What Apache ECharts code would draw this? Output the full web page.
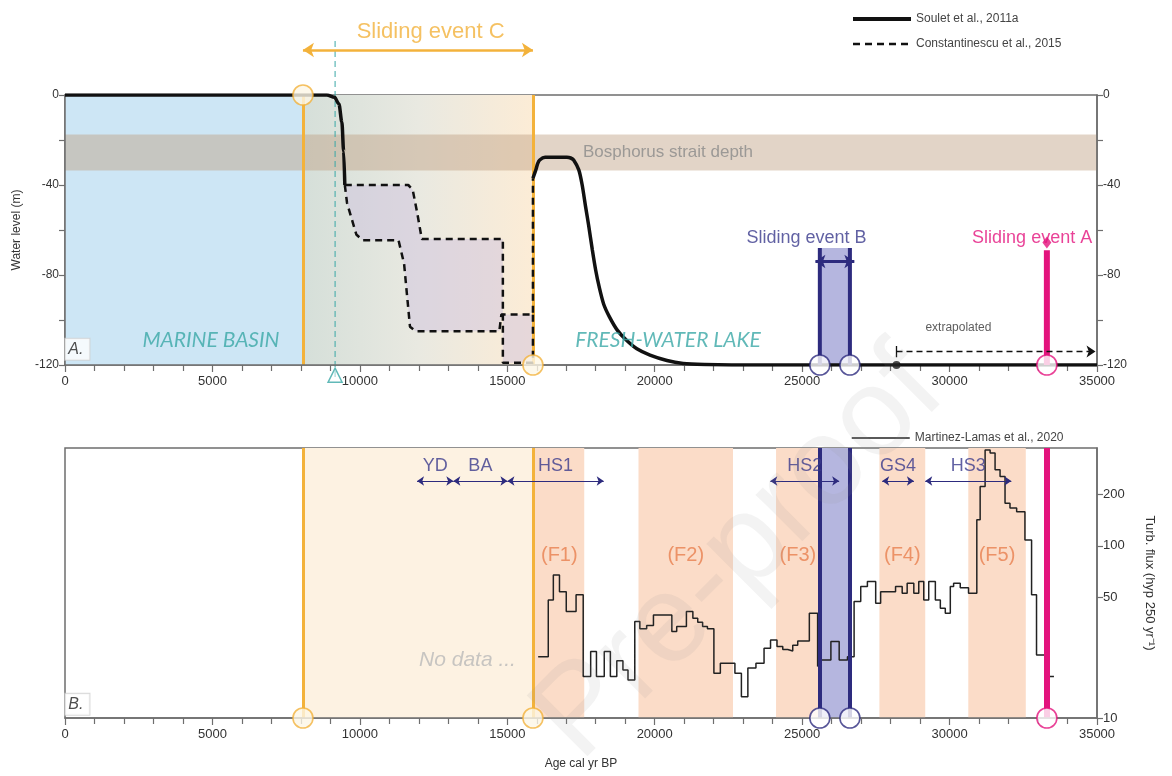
<!DOCTYPE html>
<html>
<head>
<meta charset="utf-8">
<script src="https://cdn.jsdelivr.net/npm/echarts@6/dist/echarts.min.js"></script>
<style>
  html, body { margin: 0; background: #fff; }
  #chart { width: 1172px; height: 776px; }
</style>
</head>
<body>
<div id="chart"></div>
<script>
// ---- data ----
// panel A : water level (m) vs age (cal yr BP)
const souletMarine = [[0, 0], [8880, 0], [9140, -1], [9290, -4], [9390, -12], [9450, -25], [9490, -40]];
const souletLake = [[15870, -37], [15975, -33], [16030, -30.5], [16100, -28.9], [16280, -27.7], [17020, -27.7],
  [17150, -28], [17250, -28.9], [17425, -33.3], [17540, -40], [17655, -49.6], [17760, -58], [17885, -68.9],
  [18000, -78], [18115, -85.2], [18270, -93], [18460, -98.5], [18730, -104.5], [19035, -108.9], [19395, -112.8],
  [19840, -115.6], [20415, -118], [20965, -119.3], [21680, -119.8], [22610, -120], [35000, -120]];
const constUpper = [[9490, -40], [11640, -40], [11790, -42], [11940, -52], [12100, -64], [14850, -64],
  [14850, -119], [15870, -119], [15870, -97.5]];
const constLower = [[9490, -40], [9565, -48], [9880, -62], [10090, -64.5], [11310, -64.5], [11500, -75],
  [11700, -103], [11890, -105], [14730, -105], [14800, -97.5], [15870, -97.5], [15870, -37]];
const bosphorusDepth = [-17.5, -33.5];
const slidingC = [8070, 15870];
const slidingB = [25600, 26620];
const slidingA = 33300;
const reconnection = 9160;
const extrapolatedFrom = 28200;

// panel B : turbidite flux (step values, each holds until the next age)
const turbFlux = [[16047, 22.7], [16390, 48.5], [16562, 67.8], [16770, 54.2], [17000, 41.5], [17333, 51.9],
  [17575, 17.4], [17828, 24.3], [18024, 17.4], [18289, 24.3], [18496, 17.4], [18714, 21.5], [18922, 19],
  [19094, 16.6], [19324, 36.3], [19496, 33], [19727, 34.5], [19957, 39.7], [20581, 31.8], [20746, 34],
  [21075, 41.5], [21294, 38], [21459, 36], [21624, 34], [21788, 33], [22007, 18.2], [22226, 20.8],
  [22720, 18.2], [22940, 13.3], [23159, 19.5], [23433, 20.8], [23708, 25.4], [23928, 28.4], [24147, 26],
  [24343, 25], [24512, 24.5], [24681, 26.5], [24850, 28], [25244, 40.6], [25525, 19.9], [25581, 21.7],
  [25975, 27.8], [26256, 21.7], [26537, 22.7], [26762, 47.5], [26987, 58], [27213, 62.1], [27494, 46.4],
  [27662, 54.2], [28168, 58], [28393, 53.1], [28562, 60.7], [28787, 53.1], [28955, 62.1], [29125, 48.5],
  [29293, 62.1], [29518, 48.5], [29687, 43.4], [29855, 40.6], [30025, 58], [30137, 60.7], [30362, 57],
  [30643, 53.1], [30924, 141.6], [31037, 221], [31205, 360], [31375, 346], [31543, 277], [31712, 253],
  [31881, 177], [32049, 166], [32275, 158], [32556, 108], [32781, 51.9], [32949, 23.2], [33360, 17.4],
  [33540, 17.4]];
const fluxTicks = [10, 50, 100, 200];
const fluxMax = 370;
const floodBands = [['(F1)', 15920, 17610], ['(F2)', 19450, 22655], ['(F3)', 24115, 25600],
  ['(F4)', 27620, 29175], ['(F5)', 30635, 32585]];
const periods = [['YD', 11940, 13170], ['BA', 13170, 15005], ['HS1', 15005, 18270],
  ['HS2', 23920, 26255], ['GS4', 27715, 28790], ['HS3', 29175, 32095]];

// ---- styling ----
const ORANGE = '#f3b23b', NAVY = '#2d2b7e', NAVY_TXT = '#3a3a8c', MAGENTA = '#e3137d',
  TEAL = '#3aa8a6', SALMON = '#fbdcc8', CREAM = '#fdf2e2', BLUEFILL = '#b5b6df', AXIS = '#6e6e6e';
const fMain = '"Liberation Sans", Arial, sans-serif';
const fNarrow = '"Liberation Sans Narrow", "Liberation Sans", Arial, sans-serif';
const fItal = 'Lato, "Open Sans", sans-serif';
const lg = v => Math.log10(v);

const chart = echarts.init(document.getElementById('chart'));

function xAxis(gi, name) {
  return {
    type: 'value', gridIndex: gi, min: 0, max: 35000, interval: 5000, z: 5,
    axisLine: { show: true, onZero: false, lineStyle: { color: AXIS, width: 1.5 } },
    axisTick: { show: true, length: 7, lineStyle: { color: AXIS, width: 1.2 } },
    minorTick: { show: true, splitNumber: 5, length: 6, lineStyle: { color: AXIS, width: 1.2 } },
    splitLine: { show: false },
    axisLabel: { formatter: v => String(v), color: '#333', fontSize: 13, margin: 10, fontFamily: fMain },
    name: name || '', nameLocation: 'middle', nameGap: 40,
    nameTextStyle: { color: '#333', fontSize: 12, fontFamily: fMain }
  };
}
function levelAxis(pos, name) {
  return {
    type: 'value', gridIndex: 0, position: pos, min: -120, max: 0, interval: 20, z: 5,
    axisLine: { show: true, onZero: false, lineStyle: { color: AXIS, width: 1.5 } },
    axisTick: { show: true, length: 6, lineStyle: { color: AXIS, width: 1.2 } },
    splitLine: { show: false },
    axisLabel: { formatter: v => (v % 40 === 0 ? String(v) : ''), color: '#333', fontSize: 12, margin: 6, fontFamily: fMain },
    name: name || '', nameLocation: 'middle', nameGap: 42,
    nameTextStyle: { color: '#333', fontSize: 12, fontFamily: fMain }
  };
}
function seg(xi, yi, pts, color, width, z, extra) {
  return Object.assign({
    type: 'line', xAxisIndex: xi, yAxisIndex: yi, data: pts, symbol: 'none', silent: true, z: z,
    itemStyle: { color: color }, lineStyle: { color: color, width: width }
  }, extra || {});
}
function texts(xi, yi, items) {
  return {
    type: 'scatter', xAxisIndex: xi, yAxisIndex: yi, z: 9, clip: false, silent: true, symbolSize: 1,
    itemStyle: { color: 'transparent' },
    data: items.map(t => ({
      value: [t[0], t[1]],
      label: Object.assign({ show: true, position: 'inside', formatter: t[2], fontFamily: fMain }, t[3])
    }))
  };
}
function arrows(xi, yi, list, color, width, size, extra) {
  return Object.assign({
    type: 'lines', coordinateSystem: 'cartesian2d', xAxisIndex: xi, yAxisIndex: yi, clip: false,
    silent: true, z: 8, symbol: ['arrow', 'arrow'], symbolSize: size,
    lineStyle: { color: color, width: width, opacity: 1, curveness: 0 },
    data: list.map(s => ({ coords: [[s[0], s[2]], [s[1], s[2]]] }))
  }, extra || {});
}
function circles(xi, yi, pts) {
  return {
    type: 'scatter', xAxisIndex: xi, yAxisIndex: yi, z: 8, clip: false, silent: true, symbolSize: 20,
    data: pts.map(p => ({ value: [p[0], p[1]], itemStyle: { color: p[3] || '#fff', borderColor: p[2], borderWidth: 1.6 } }))
  };
}

const bLow = lg(10);
const dashed = { color: '#111', width: 2.5, type: [7, 5] };
const series = [
  // ---------- panel A backgrounds ----------
  { type: 'line', xAxisIndex: 0, yAxisIndex: 0, data: [], z: 1, silent: true,
    markArea: { silent: true, data: [
      [{ xAxis: 0, yAxis: 0, itemStyle: { color: '#cde6f5' } }, { xAxis: slidingC[0], yAxis: -120 }],
      [{ xAxis: slidingC[0], yAxis: 0, itemStyle: { color: { type: 'linear', x: 0, y: 0, x2: 1, y2: 0,
        colorStops: [{ offset: 0, color: '#d5dfd9' }, { offset: 0.5, color: '#e9e9e1' }, { offset: 1, color: '#fcecd6' }] } } },
       { xAxis: slidingC[1], yAxis: -120 }],
      [{ xAxis: 0, yAxis: bosphorusDepth[0], itemStyle: { color: 'rgba(190,160,130,0.45)' } }, { xAxis: 35000, yAxis: bosphorusDepth[1] }],
      [{ xAxis: slidingB[0], yAxis: -68, itemStyle: { color: BLUEFILL } }, { xAxis: slidingB[1], yAxis: -120 }]
    ] } },
  { type: 'custom', xAxisIndex: 0, yAxisIndex: 0, z: 2, silent: true, data: [0],
    renderItem: (params, api) => ({
      type: 'polygon',
      shape: { points: constUpper.concat(constLower.slice(0, -1).reverse()).map(p => api.coord(p)) },
      style: { fill: 'rgba(205,190,222,0.45)' }
    }) },
  { type: 'line', xAxisIndex: 0, yAxisIndex: 0, data: [], z: 3, silent: true,
    markLine: { silent: true, symbol: 'none', label: { show: false }, lineStyle: { color: ORANGE, width: 3, type: 'solid' },
      data: [{ xAxis: slidingC[0] }, { xAxis: slidingC[1] }] } },
  seg(0, 0, [[reconnection, 24], [reconnection, -126]], TEAL, 1, 4, { clip: false, lineStyle: { color: TEAL, width: 1, type: [6, 4] } }),
  // ---------- panel A curves ----------
  seg(0, 0, souletMarine, '#111', 3.5, 6, { name: 'Soulet et al., 2011a', smooth: 0.3, smoothMonotone: 'x' }),
  seg(0, 0, souletLake, '#111', 3.5, 6, { name: 'Soulet et al., 2011a', smooth: 0.25 }),
  seg(0, 0, constUpper, '#111', 2.5, 6, { name: 'Constantinescu et al., 2015', lineStyle: dashed }),
  seg(0, 0, constLower, '#111', 2.5, 6, { name: 'Constantinescu et al., 2015', lineStyle: dashed }),
  seg(0, 0, [[slidingB[0], -68], [slidingB[0], -120]], NAVY, 4, 7),
  seg(0, 0, [[slidingB[1], -68], [slidingB[1], -120]], NAVY, 4, 7),
  seg(0, 0, [[slidingA, -69], [slidingA, -120]], MAGENTA, 6, 7),
  { type: 'scatter', xAxisIndex: 0, yAxisIndex: 0, z: 8, clip: false, silent: true,
    data: [
      { value: [slidingA, -65.5], symbol: 'diamond', symbolSize: [9, 12], itemStyle: { color: MAGENTA } },
      { value: [extrapolatedFrom, -120], symbol: 'circle', symbolSize: 8, itemStyle: { color: '#111' } },
      { value: [reconnection, -124.5], symbol: 'triangle', symbolSize: 14, itemStyle: { color: 'rgba(255,255,255,0.6)', borderColor: TEAL, borderWidth: 1.5 } }
    ] },
  circles(0, 0, [[slidingC[0], 0, ORANGE, '#fdf6e6'], [slidingC[1], -120, ORANGE, '#fdf6e6'],
    [slidingB[0], -120, NAVY], [slidingB[1], -120, NAVY], [slidingA, -120, MAGENTA]]),
  arrows(0, 0, [[slidingC[0], slidingC[1], 20]], ORANGE, 2.5, 11),
  arrows(0, 0, [[slidingB[0] - 150, slidingB[1] + 150, -74]], NAVY, 3, 10),
  arrows(0, 0, [[extrapolatedFrom, 34950, -114]], '#111', 1.3, 9,
    { symbol: ['none', 'arrow'], lineStyle: { color: '#111', width: 1.3, opacity: 1, type: [6, 4] } }),
  seg(0, 0, [[extrapolatedFrom, -111.5], [extrapolatedFrom, -116.5]], '#111', 1.3, 8),
  texts(0, 0, [
    [12400, 28, 'Sliding event C', { color: ORANGE, fontSize: 22 }],
    [20450, -25.5, 'Bosphorus strait depth', { color: '#8a8a8a', fontSize: 17, fontFamily: fNarrow }],
    [25150, -63.5, 'Sliding event B', { color: NAVY_TXT, fontSize: 18 }],
    [32800, -63.5, 'Sliding event A', { color: MAGENTA, fontSize: 18 }],
    [4950, -109, 'MARINE BASIN', { color: TEAL, fontSize: 21, fontStyle: 'italic', fontFamily: fItal }],
    [20450, -109, 'FRESH-WATER LAKE', { color: TEAL, fontSize: 21, fontStyle: 'italic', fontFamily: fItal }],
    [30300, -103.5, 'extrapolated', { color: '#333', fontSize: 12, fontFamily: fNarrow }],
    [420, -113, 'A.', { color: '#222', fontSize: 16, fontStyle: 'italic', backgroundColor: '#fff', borderColor: '#cfcfcf', borderWidth: 1, padding: [3, 6, 2, 3] }]
  ]),

  // ---------- panel B backgrounds ----------
  { type: 'line', xAxisIndex: 1, yAxisIndex: 2, data: [], z: 1, silent: true,
    markArea: { silent: true, data: [[{ xAxis: slidingC[0], itemStyle: { color: CREAM } }, { xAxis: slidingC[1] }]]
      .concat(floodBands.map(b => [{ xAxis: b[1], itemStyle: { color: SALMON } }, { xAxis: b[2] }]))
      .concat([[{ xAxis: slidingB[0], itemStyle: { color: BLUEFILL } }, { xAxis: slidingB[1] }]]) } },
  { type: 'line', xAxisIndex: 1, yAxisIndex: 2, data: [], z: 3, silent: true,
    markLine: { silent: true, symbol: 'none', label: { show: false }, data: [
      { xAxis: slidingC[0], lineStyle: { color: ORANGE, width: 3, type: 'solid' } },
      { xAxis: slidingC[1], lineStyle: { color: ORANGE, width: 3, type: 'solid' } },
      { xAxis: slidingB[0], lineStyle: { color: NAVY, width: 4, type: 'solid' } },
      { xAxis: slidingB[1], lineStyle: { color: NAVY, width: 4, type: 'solid' } },
      { xAxis: slidingA, lineStyle: { color: MAGENTA, width: 6, type: 'solid' } }
    ] } },
  seg(1, 2, turbFlux.map(p => [p[0], lg(p[1])]), '#222', 1.5, 4, { name: 'Martinez-Lamas et al., 2020', step: 'end' }),
  circles(1, 2, [[slidingC[0], bLow, ORANGE, '#fdf6e6'], [slidingC[1], bLow, ORANGE, '#fdf6e6'],
    [slidingB[0], bLow, NAVY], [slidingB[1], bLow, NAVY], [slidingA, bLow, MAGENTA]]),
  arrows(1, 2, periods.map(p => [p[1], p[2], lg(238)]), NAVY, 1, 7),
  texts(1, 2, periods.map(p => [(p[1] + p[2]) / 2, lg(292), p[0], { color: NAVY_TXT, fontSize: 18 }])
    .concat(floodBands.map(b => [(b[1] + b[2]) / 2, lg(88), b[0], { color: '#e8804f', fontSize: 20 }]))
    .concat([
      [13650, lg(21.7), 'No data ...', { color: '#b9b9b9', fontSize: 21, fontStyle: 'italic' }],
      [420, lg(12), 'B.', { color: '#222', fontSize: 16, fontStyle: 'italic', backgroundColor: '#fff', borderColor: '#cfcfcf', borderWidth: 1, padding: [3, 6, 2, 3] }]
    ]))
];

const legendText = { fontSize: 12, color: '#444', fontFamily: fNarrow };
chart.setOption({
  animation: false,
  backgroundColor: '#fff',
  grid: [
    { left: 65, top: 95, width: 1032, height: 270, show: true, borderColor: AXIS, borderWidth: 1.5, backgroundColor: 'transparent', outerBoundsMode: 'none' },
    { left: 65, top: 448, width: 1032, height: 270, show: true, borderColor: AXIS, borderWidth: 1.5, backgroundColor: 'transparent', outerBoundsMode: 'none' }
  ],
  legend: [
    { left: 846, top: 8, orient: 'vertical', itemWidth: 58, itemHeight: 12, itemGap: 13, selectedMode: false,
      itemStyle: { opacity: 0 }, textStyle: legendText,
      data: [{ name: 'Soulet et al., 2011a', lineStyle: { width: 4 } },
             { name: 'Constantinescu et al., 2015', lineStyle: { width: 2.5, type: [7, 5] } }] },
    { left: 846, top: 427, itemWidth: 58, itemHeight: 12, selectedMode: false,
      itemStyle: { opacity: 0 }, textStyle: legendText,
      data: [{ name: 'Martinez-Lamas et al., 2020', lineStyle: { width: 1.5 } }] }
  ],
  graphic: [{
    type: 'text', x: 740, y: 555, rotation: Math.PI / 4, z: 100, silent: true,
    style: { text: 'Pre-proof', font: '125px "Liberation Sans", Arial, sans-serif', fill: 'rgba(150,150,150,0.11)', align: 'center', verticalAlign: 'middle' }
  }],
  xAxis: [xAxis(0), xAxis(1, 'Age cal yr BP')],
  yAxis: [
    levelAxis('left', 'Water level (m)'),
    levelAxis('right'),
    { type: 'value', gridIndex: 1, position: 'right', min: lg(10), max: lg(fluxMax), z: 5,
      axisLine: { show: true, onZero: false, lineStyle: { color: AXIS, width: 1.5 } },
      axisTick: { show: true, length: 6, customValues: fluxTicks.map(lg), lineStyle: { color: AXIS, width: 1.2 } },
      splitLine: { show: false },
      axisLabel: { customValues: fluxTicks.map(lg), formatter: v => String(Math.round(Math.pow(10, v))), color: '#333', fontSize: 13, margin: 6, fontFamily: fMain },
      name: 'Turb. flux (hyp 250 yr⁻¹)', nameLocation: 'middle', nameRotate: -90, nameGap: 46,
      nameTextStyle: { color: '#333', fontSize: 13, fontFamily: fMain } }
  ],
  series: series
});
</script>
</body>
</html>
